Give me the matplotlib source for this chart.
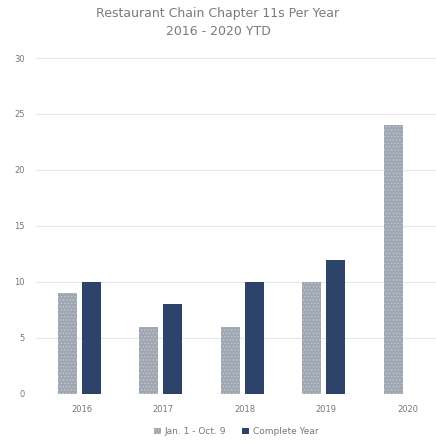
import numpy as np
import matplotlib.pyplot as plt

years = ["2016", "2017", "2018", "2019", "2020"]
ytd = [9, 6, 6, 10, 24]
full_year = [10, 8, 10, 12, 0]

plt.rcParams['hatch.linewidth'] = 0.6
plt.rcParams['hatch.color'] = '#c3c8d0'

fig = plt.figure(figsize=(4.36, 4.43), dpi=100)
ax = fig.add_axes([0.083, 0.111, 0.917, 0.758])

x = np.arange(len(years))
w = 0.235
ax.bar(x - 0.147, ytd, width=w, color='#9ea6b1', hatch='.....',
       edgecolor='#c3c8d0', linewidth=0, label='Jan. 1 - Oct. 9', zorder=3)
# 2020 full year not yet known -> skip the zero bar
ax.bar(x[:4] + 0.147, full_year[:4], width=w, color='#2e4369',
       linewidth=0, label='Complete Year', zorder=3)

ax.set_ylim(0, 30)
ax.set_xlim(-0.53, 4.38)
ax.set_yticks(range(0, 31, 5))
ax.set_xticks(x + 0.03)
ax.set_xticklabels(years)
ax.grid(axis='y', color='#e6e6e6', linewidth=0.8, zorder=0)
for s in ax.spines.values():
    s.set_visible(False)
ax.tick_params(length=0, labelsize=6, colors='#777777', pad=8)

fig.suptitle('Restaurant Chain Chapter 11s Per Year\n2016 - 2020 YTD',
             y=0.985, fontsize=9, color='#7a7a7a', linespacing=1.5)

ax.legend(loc='upper center', bbox_to_anchor=(0.5, -0.075), ncol=2,
          frameon=False, fontsize=6.5, labelcolor='#777777', handlelength=0.8,
          handleheight=0.8, handletextpad=0.4, columnspacing=1.8)

fig.savefig('out.png', dpi=100)
